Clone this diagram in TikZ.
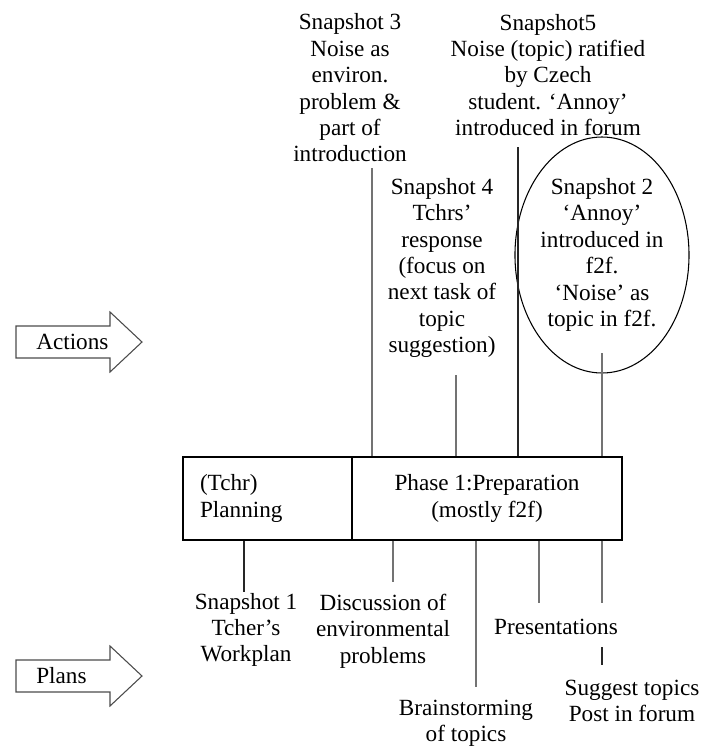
\documentclass[tikz,border=0pt]{standalone}
\usepackage{fontspec}
\setmainfont{Liberation Serif}
\usetikzlibrary{shapes.geometric}

\begin{document}
\begin{tikzpicture}[x=0.75pt,y=-0.75pt,
    every node/.style={font=\fontsize{17.4}{19.8}\selectfont, align=center, inner sep=0pt},
    cell/.style={draw, line width=1.1pt, minimum height=62.25pt},
    pointer/.style={draw=black!70, fill=white, line width=0.8pt},
    greyline/.style={draw=black!55, line width=1.8pt},
    thinline/.style={draw=black!85, line width=0.8pt}]
    \useasboundingbox (0,0) rectangle (703,747);

    \draw[pointer] (16,326) -- (110,326) -- (110,312) -- (142,342) -- (110,372) -- (110,358) -- (16,358) -- cycle;
    \node[anchor=west] (actions) at (36,342) {Actions};

    \draw[pointer] (16,660) -- (110,660) -- (110,646) -- (142,676) -- (110,706) -- (110,692) -- (16,692) -- cycle;
    \node[anchor=west] (plans) at (36,676) {Plans};

    \node[cell, text width=101.25pt, inner xsep=12.75pt, align=left] (tchr) at (267.5,498.5) {(Tchr)\\Planning};
    \node[cell, minimum width=202.5pt] (prep) at (487,498.5) {Phase 1:Preparation\\(mostly f2f)};

    \node (snapthree) at (350,88) {Snapshot 3\\Noise as\\environ.\\problem \&\\part of\\introduction};
    \node (snapfive) at (548,75) {Snapshot5\\Noise (topic) ratified\\by Czech\\student. `Annoy'\\introduced in forum};
    \node (snapfour) at (442,268) {Snapshot 4\\Tchrs'\\response\\(focus on\\next task of\\topic\\suggestion)};
    \node[ellipse, draw, line width=0.8pt, minimum width=112.5pt, minimum height=177pt] (snaptwo) at (602,255) {Snapshot 2\\`Annoy'\\introduced in\\f2f.\\`Noise' as\\topic in f2f.};

    \node (snapone) at (246,630) {Snapshot 1\\Tcher's\\Workplan};
    \node (discuss) at (383,631) {Discussion of\\environmental\\problems};
    \node (present) at (556,627) {Presentations};
    \node (brainstorm) at (466,723) {Brainstorming\\of topics};
    \node (suggest) at (632,701) {Suggest topics\\Post in forum};

    \coordinate (topthree) at (372,168);
    \coordinate (topfive) at (518,147);
    \coordinate (topfour) at (456,375);
    \coordinate (toptwo) at (602,353);
    \draw[greyline] (topthree) -- (topthree |- prep.north);
    \draw[thinline] (topfive) -- (topfive |- prep.north);
    \draw[greyline] (topfour) -- (topfour |- prep.north);
    \draw[greyline] (toptwo) -- (toptwo |- prep.north);

    \coordinate (endone) at (244,592);
    \coordinate (enddiscuss) at (393,582);
    \coordinate (endbrain) at (476,687);
    \coordinate (endpresent) at (539,603);
    \coordinate (endsuggest) at (602,603);
    \draw[thinline] (endone |- tchr.south) -- (endone);
    \draw[greyline] (enddiscuss |- prep.south) -- (enddiscuss);
    \draw[greyline] (endbrain |- prep.south) -- (endbrain);
    \draw[greyline] (endpresent |- prep.south) -- (endpresent);
    \draw[greyline] (endsuggest |- prep.south) -- (endsuggest);

    \coordinate (linkpost) at (602,647);
    \draw[thinline] (linkpost) -- ++(0,18);
\end{tikzpicture}
\end{document}
